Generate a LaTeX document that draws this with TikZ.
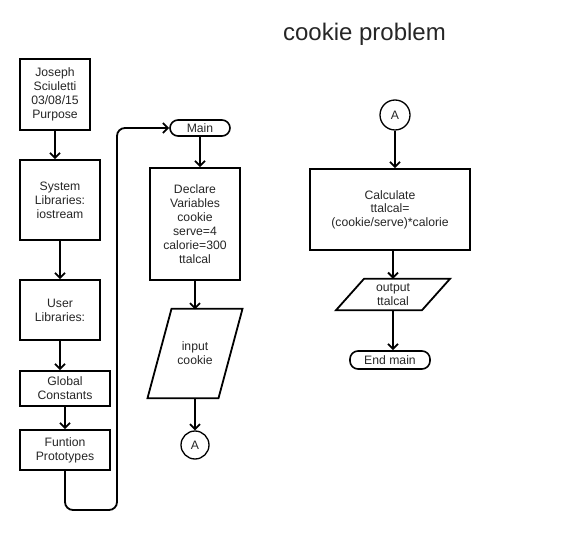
\documentclass[tikz,border=0pt]{standalone}
\usepackage{fontspec}
\setmainfont{Liberation Sans}
\usetikzlibrary{arrows.meta}
\definecolor{txt}{HTML}{262626}
\begin{document}
\begin{tikzpicture}[x=1pt,y=-1pt,
  base/.style={inner sep=0pt,align=center,text=txt,font=\fontsize{12.2}{14}\selectfont},
  box/.style={base,draw=black,line width=1.8pt},
  term/.style={base,draw=black,line width=1.6pt,rounded corners=8pt},
  conn/.style={base,draw=black,line width=1.3pt,circle},
  line/.style={draw=black,line width=1.8pt},
  arr/.style={line,-{Straight Barb[length=5pt,width=10pt]}}]
\useasboundingbox (0,0) rectangle (583,534);
% title
\node[base,font=\fontsize{24}{28}\selectfont] (title) at (364.5,34.5) {cookie problem};
% left column
\node[box,minimum width=70pt,minimum height=71pt] (j) at (55,94.5) {Joseph\\Sciuletti\\03/08/15\\Purpose};
\node[box,minimum width=80pt,minimum height=80pt] (sys) at (60,200) {System\\Libraries:\\iostream};
\node[box,minimum width=80pt,minimum height=60pt] (usr) at (60,310) {User\\Libraries:};
\node[box,minimum width=90pt,minimum height=35pt] (glob) at (65,388.5) {Global\\Constants};
\node[box,minimum width=90pt,minimum height=40pt] (fun) at (65,450) {Funtion\\Prototypes};
% middle column
\node[term,minimum width=60pt,minimum height=16pt] (main) at (200,128) {Main};
\node[box,minimum width=90pt,minimum height=112pt] (decl) at (195,224) {Declare\\Variables\\cookie\\serve=4\\calorie=300\\ttalcal};
\node[base,minimum width=71pt,minimum height=89pt] (in) at (195,353.5) {input\\cookie};
\draw[line,line join=miter] ([xshift=-23.5pt]in.north) -- ([xshift=47.5pt]in.north) -- ([xshift=23.5pt]in.south) -- ([xshift=-47.5pt]in.south) -- cycle;
\node[conn,minimum size=28pt] (a1) at (195,445) {A};
% right column
\node[conn,minimum size=30pt] (a2) at (395,115) {A};
\node[box,minimum width=160pt,minimum height=81pt,font=\fontsize{12.2}{13.4}\selectfont] (calc) at (390,209.5) {Calculate\\ttalcal=\\(cookie/serve)*calorie};
\node[base,minimum width=86pt,minimum height=31pt] (out) at (393,294.5) {output\\ttalcal};
\draw[line,line join=miter] ([xshift=-29pt]out.north) -- ([xshift=57pt]out.north) -- ([xshift=29pt]out.south) -- ([xshift=-57pt]out.south) -- cycle;
\node[term,minimum width=80pt,minimum height=18pt] (end) at (390,360) {End main};
% connectors
\draw[arr] (j.south) -- (j.south |- sys.north);
\draw[arr] (sys.south) -- (usr.north);
\draw[arr] (usr.south) -- (usr.south |- glob.north);
\draw[arr] (glob.south) -- (fun.north);
\coordinate (c1) at (117,510);
\draw[arr,rounded corners=8pt] (fun.south) |- (c1) |- (main.west);
\draw[arr] (main.south) -- (main.south |- decl.north);
\draw[arr] (decl.south) -- ([yshift=-0.5pt]in.north);
\draw[arr] (in.south) -- (a1.north);
\draw[arr] (a2.south) -- (a2.south |- calc.north);
\draw[arr] (calc.south -| out) -- (out.north);
\draw[arr] (out.south) -- (out.south |- end.north);
\end{tikzpicture}
\end{document}
